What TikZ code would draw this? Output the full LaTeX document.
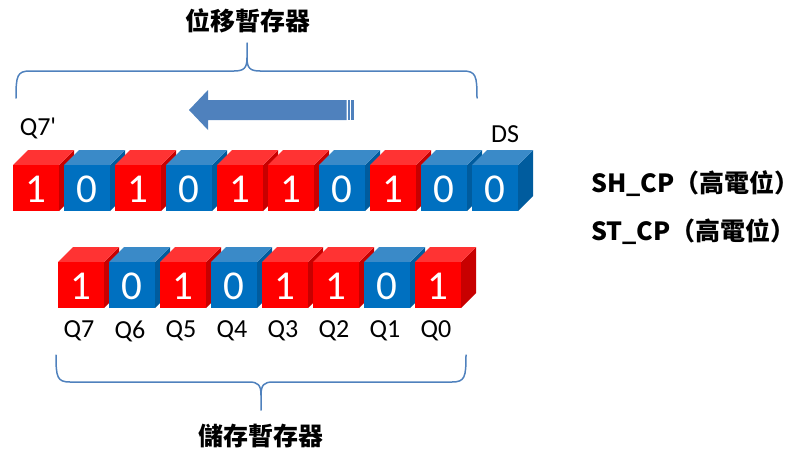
\documentclass[tikz,border=0pt]{standalone}
\usepackage{fontspec}
\setmainfont{Carlito}
\newfontfamily\lat{Carlito}
\newfontfamily\cjk{Noto Sans CJK TC}
\definecolor{redF}{HTML}{FF0000}
\definecolor{redT}{HTML}{FF3333}
\definecolor{redS}{HTML}{C80000}
\definecolor{bluF}{HTML}{0070C0}
\definecolor{bluT}{HTML}{3A8AC8}
\definecolor{bluS}{HTML}{005C9E}
\definecolor{braceC}{HTML}{4F81BD}
\newcommand\drawcube[5]{%
  \fill[#3S] (#1+46,#2) -- (#1+61,#2-15) -- (#1+61,#2+31) -- (#1+46,#2+46) -- cycle;
  \fill[#3T] (#1,#2) -- (#1+15,#2-15) -- (#1+61,#2-15) -- (#1+46,#2) -- cycle;
  \fill[#3F] (#1,#2) rectangle (#1+46,#2+46);
  \node[digit] (#5) at (#1+23,#2+24) {#4};
}
\begin{document}
\begin{tikzpicture}[x=1pt,y=-1pt,
  digit/.style={text=white,font=\fontsize{41}{41}\selectfont,inner sep=0pt},
  lbl/.style={text=black,font=\lat\fontsize{26}{26}\selectfont,inner sep=0pt},
  cjklbl/.style={text=black,font=\cjk\bfseries\fontsize{25}{25}\selectfont,inner sep=0pt},
  brace/.style={draw=braceC,line width=1.5pt,line cap=round}]
\useasboundingbox (0,0) rectangle (806,455);
% top braces and title
\node[cjklbl] (title) at (248,21) {位移暫存器};
\draw[brace] (16,98) .. controls (16,76) and (17,71) .. (30,71) -- (234,71)
  .. controls (244,71) and (247,68) .. (247,58) -- (247,43);
\draw[brace] (477,98) .. controls (477,76) and (476,71) .. (463,71) -- (260,71)
  .. controls (250,71) and (247,68) .. (247,58);
% arrow
\fill[braceC] (189,110) -- (208,90) -- (208,100) -- (346.5,100) -- (346.5,120)
  -- (208,120) -- (208,130) -- cycle;
\fill[braceC] (348.3,100) rectangle (350,120);
\fill[braceC] (351.3,100) rectangle (354,120);
% labels top row
\node[lbl] (q7p) at (38,128) {Q7'};
\node[lbl] (ds) at (505,134) {DS};
% top row cubes
\foreach \d [count=\i from 0] in {1,0,1,0,1,1,0,1,0,0}{
  \pgfmathsetmacro{\xx}{13+51*\i}
  \ifnum\d=1 \drawcube{\xx}{165}{red}{1}{t\i}\else\drawcube{\xx}{165}{blu}{0}{t\i}\fi
}
% bottom row cubes
\foreach \d/\q [count=\i from 0] in {1/7,0/6,1/5,0/4,1/3,1/2,0/1,1/0}{
  \pgfmathsetmacro{\xx}{58+51*\i}
  \ifnum\d=1 \drawcube{\xx}{262}{red}{1}{b\i}\else\drawcube{\xx}{262}{blu}{0}{b\i}\fi
  \node[lbl] (q\q) at (\xx+21,331) {Q\q};
}
% right labels
\node[cjklbl,anchor=west] (sh) at (591,184) {SH\_CP（高電位）};
\node[cjklbl,anchor=west] (st) at (591,232) {ST\_CP（高電位）};
% bottom brace
\draw[brace] (56,355) .. controls (56,377) and (57,382) .. (70,382) -- (249,382)
  .. controls (258,382) and (261,385) .. (261,395) -- (261,410);
\draw[brace] (466,355) .. controls (466,377) and (465,382) .. (452,382) -- (273,382)
  .. controls (264,382) and (261,385) .. (261,395);
\node[cjklbl] (title2) at (261,436) {儲存暫存器};
\end{tikzpicture}
\end{document}
